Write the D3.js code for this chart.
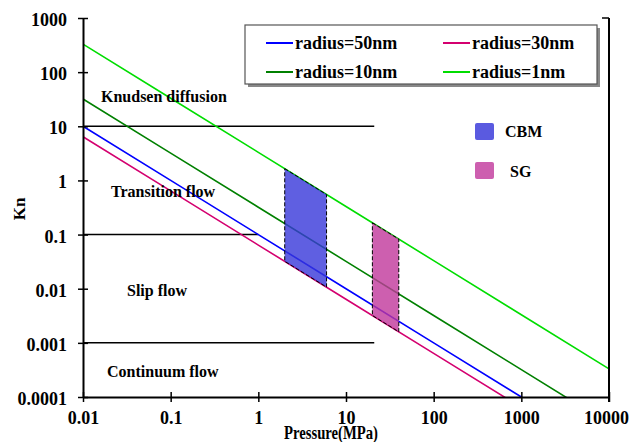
<!DOCTYPE html>
<html><head><meta charset="utf-8">
<script src="https://cdn.jsdelivr.net/npm/d3@7"></script>
<style>
html,body{margin:0;padding:0;background:#fff;}
svg text{font-family:"Liberation Serif","Times New Roman",serif;font-weight:bold;fill:#000;}
</style></head>
<body><svg id="c" width="630" height="442"></svg>
<script>
// ---- data ----
const pressures = [0.01, 0.1, 1, 10, 100, 1000, 10000];
const kn50 = [10, 1, 0.1, 0.01, 0.001, 0.0001, 0.00001];
const kn30 = [6.4, 0.64, 0.064, 0.0064, 0.00064, 0.000064, 0.0000064];
const kn10 = [32, 3.2, 0.32, 0.032, 0.0032, 0.00032, 0.000032];
const kn1  = [330, 33, 3.3, 0.33, 0.033, 0.0033, 0.00033];
const seriesNames = ["radius=50nm", "radius=30nm", "radius=10nm", "radius=1nm"];
const seriesColors = ["#0000ff", "#d4006f", "#008000", "#00dd00"];

const cbmPressure = [2, 6];
const cbmUpper = [1.65, 0.55];
const cbmLower = [0.032, 0.0107];
const sgPressure = [20, 40];
const sgUpper = [0.165, 0.0825];
const sgLower = [0.0032, 0.0016];

const regimeKn = [10, 0.1, 0.001];
const regimeEnd = [21, 1, 21];
const regimeNames = ["Knudsen diffusion", "Transition flow", "Slip flow", "Continuum flow"];

const xTicks = [0.01, 0.1, 1, 10, 100, 1000, 10000];
const xTickLabels = ["0.01", "0.1", "1", "10", "100", "1000", "10000"];
const yTicks = [0.0001, 0.001, 0.01, 0.1, 1, 10, 100, 1000];
const yTickLabels = ["0.0001", "0.001", "0.01", "0.1", "1", "10", "100", "1000"];

// ---- chart ----
const svg = d3.select("#c");
const x = d3.scaleLog().domain([0.01, 10000]).range([83, 609]);
const y = d3.scaleLog().domain([0.0001, 1000]).range([397, 18]);

svg.append("defs").append("clipPath").attr("id", "plot")
  .append("rect").attr("x", 83).attr("y", 18).attr("width", 526).attr("height", 379);

// regime boundary lines
svg.append("g").selectAll("line").data(regimeKn).join("line")
  .attr("x1", x(0.01)).attr("x2", (d, i) => x(regimeEnd[i]))
  .attr("y1", d => y(d)).attr("y2", d => y(d))
  .attr("stroke", "#000").attr("stroke-width", 1.5);

// series lines
const allSeries = [kn50, kn30, kn10, kn1];
const line = d3.line().x((d, i) => x(pressures[i])).y(d => y(d));
svg.append("g").attr("clip-path", "url(#plot)").selectAll("path").data(allSeries).join("path")
  .attr("d", d => line(d)).attr("fill", "none")
  .attr("stroke", (d, i) => seriesColors[i]).attr("stroke-width", 1.6);

// shaded regions
const area = (p, up, lo) => {
  const pts = [[p[0], up[0]], [p[1], up[1]], [p[1], lo[1]], [p[0], lo[0]]];
  return "M" + pts.map(q => x(q[0]) + "," + y(q[1])).join("L") + "Z";
};
svg.append("path").attr("d", area(cbmPressure, cbmUpper, cbmLower))
  .attr("fill", "rgb(55,55,217)").attr("fill-opacity", 0.8)
  .attr("stroke", "#000").attr("stroke-width", 1).attr("stroke-dasharray", "4,2");
svg.append("path").attr("d", area(sgPressure, sgUpper, sgLower))
  .attr("fill", "rgb(192,55,155)").attr("fill-opacity", 0.8)
  .attr("stroke", "#000").attr("stroke-width", 1).attr("stroke-dasharray", "4,2");

// axes
const xAxis = svg.append("g").attr("transform", "translate(0,397)")
  .call(d3.axisBottom(x).tickValues(xTicks).tickFormat((d, i) => xTickLabels[i]).tickSizeInner(5).tickSizeOuter(0).tickPadding(9));
xAxis.select(".domain").attr("stroke-width", 2);
xAxis.selectAll(".tick line").attr("y1", -5).attr("y2", 5).attr("stroke-width", 1.5);
xAxis.selectAll("text").attr("font-size", 18)
  .attr("dx", (d, i) => i === xTicks.length - 1 ? -3 : 0);

const yAxis = svg.append("g").attr("transform", "translate(83,0)")
  .call(d3.axisLeft(y).tickValues(yTicks).tickFormat((d, i) => yTickLabels[i]).tickSizeInner(5).tickSizeOuter(0).tickPadding(11));
yAxis.select(".domain").attr("stroke-width", 2);
yAxis.selectAll(".tick line").attr("x1", -5).attr("x2", 5).attr("stroke-width", 1.5);
yAxis.selectAll("text").attr("font-size", 18).attr("dy", "0.42em");

// right border
svg.append("line").attr("x1", 609).attr("x2", 609).attr("y1", y(1000)).attr("y2", 402)
  .attr("stroke", "#000").attr("stroke-width", 2);
svg.append("line").attr("x1", 602).attr("x2", 609).attr("y1", y(1000)).attr("y2", y(1000))
  .attr("stroke", "#000").attr("stroke-width", 1.5);

// axis titles
svg.append("text").attr("x", 331).attr("y", 439).attr("text-anchor", "middle")
  .attr("font-size", 18).attr("textLength", 94).attr("lengthAdjust", "spacingAndGlyphs").text("Pressure(MPa)");
svg.append("text").attr("transform", "translate(25,209) rotate(-90)").attr("text-anchor", "middle")
  .attr("font-size", 17).text("Kn");

// regime labels
const labelPos = [[x(0.01) + 18, 102], [x(0.01) + 28, 197], [x(0.01) + 44, 296], [x(0.01) + 24, 377]];
svg.append("g").selectAll("text").data(regimeNames).join("text")
  .attr("x", (d, i) => labelPos[i][0]).attr("y", (d, i) => labelPos[i][1])
  .attr("font-size", 16).text(d => d);

// series legend
const lg = svg.append("g");
lg.append("rect").attr("x", 248).attr("y", 28).attr("width", 352).attr("height", 59).attr("fill", "#888");
lg.append("rect").attr("x", 245).attr("y", 25).attr("width", 352).attr("height", 59)
  .attr("fill", "#fff").attr("stroke", "#555").attr("stroke-width", 1.2);
const lgPos = [[266, 43], [443, 43], [266, 72], [443, 72]];
seriesNames.forEach((n, i) => {
  lg.append("line").attr("x1", lgPos[i][0]).attr("x2", lgPos[i][0] + 27)
    .attr("y1", lgPos[i][1]).attr("y2", lgPos[i][1])
    .attr("stroke", seriesColors[i]).attr("stroke-width", 2);
  lg.append("text").attr("x", lgPos[i][0] + 29).attr("y", lgPos[i][1] + 6)
    .attr("font-size", 18).text(n);
});

// region legend
const regNames = ["CBM", "SG"];
const regColors = ["rgb(90,90,224)", "rgb(205,95,175)"];
const regPos = [[475, 123, 505, 137], [475, 162, 510, 177]];
regNames.forEach((n, i) => {
  svg.append("rect").attr("x", regPos[i][0]).attr("y", regPos[i][1]).attr("width", 19).attr("height", 17)
    .attr("rx", 2).attr("fill", regColors[i]);
  svg.append("text").attr("x", regPos[i][2]).attr("y", regPos[i][3]).attr("font-size", 16).text(n);
});
</script></body></html>
